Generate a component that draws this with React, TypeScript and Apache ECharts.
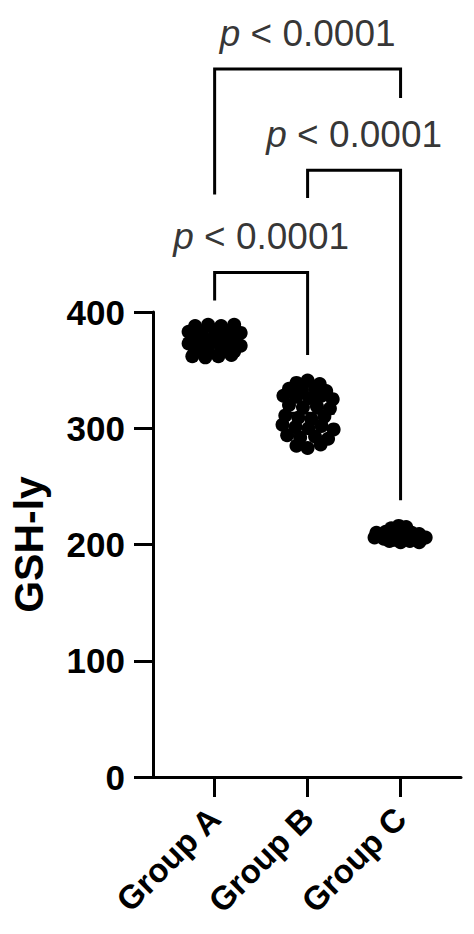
import { useEffect, useRef } from "react";
import * as echarts from "echarts";

// categories and their positions on the x value axis
const groups = ["Group A", "Group B", "Group C"];
const groupPos = [1, 2, 3];

// per-group points: values and horizontal swarm offsets (in category units)
const groupAValues = [388, 389, 388, 389, 383, 382, 384, 383, 382, 377, 376, 378, 377, 373, 372, 374, 372, 371, 367, 366, 368, 366, 362, 361, 362, 363];
const groupAJitter = [-0.21, -0.07, 0.07, 0.21, -0.28, -0.14, 0, 0.14, 0.28, -0.21, -0.07, 0.07, 0.21, -0.28, -0.14, 0.02, 0.16, 0.28, -0.21, -0.07, 0.07, 0.21, -0.24, -0.1, 0.04, 0.18];

const groupBValues = [341, 339, 338, 334, 333, 335, 332, 328, 327, 326, 328, 325, 320, 318, 319, 317, 311, 309, 308, 310, 303, 301, 300, 302, 299, 294, 292, 293, 291, 285, 283, 286];
const groupBJitter = [0, -0.12, 0.13, -0.2, -0.06, 0.08, 0.2, -0.26, -0.12, 0.02, 0.15, 0.27, -0.2, -0.05, 0.1, 0.24, -0.24, -0.1, 0.04, 0.18, -0.27, -0.13, 0.01, 0.15, 0.28, -0.22, -0.08, 0.08, 0.22, -0.12, 0, 0.14];

const groupCValues = [216, 214, 215, 210, 211, 209, 212, 210, 209, 206, 205, 204, 206, 205, 204, 206, 203, 202, 203, 202];
const groupCJitter = [-0.02, -0.1, 0.06, -0.26, -0.16, -0.06, 0.03, 0.12, 0.2, -0.28, -0.18, -0.08, 0.02, 0.12, 0.22, 0.27, -0.12, 0, 0.1, 0.2];

const groupMeans = [375, 313, 208];

// significance brackets (y in data units)
const bracketLeft = [1, 2, 1];
const bracketRight = [2, 3, 3];
const bracketTop = [434, 522, 609];
const bracketLeftEnd = [410, 498, 501];
const bracketRightEnd = [363, 238, 584];
const bracketLabels = ["< 0.0001", "< 0.0001", "< 0.0001"];

const FONT = "'Liberation Sans', Arial, Helvetica, sans-serif";
const MEAN_HALF = 0.29;
const LABEL_LIFT = 31;

export default function App() {
  const ref = useRef<HTMLDivElement>(null);

  useEffect(() => {
    document.body.style.margin = "0";
    if (!ref.current) return;
    const chart = echarts.init(ref.current, null, { renderer: "svg" });

    const pointSets = [
      groupAValues.map((v, i) => [groupPos[0] + groupAJitter[i], v]),
      groupBValues.map((v, i) => [groupPos[1] + groupBJitter[i], v]),
      groupCValues.map((v, i) => [groupPos[2] + groupCJitter[i], v]),
    ];

    const dotSeries = pointSets.map(data => ({
      type: "scatter",
      data,
      symbolSize: 14,
      itemStyle: { color: "#000", opacity: 1 },
      clip: false,
      z: 3,
    }));

    const meanSeries = groupMeans.map((m, i) => ({
      type: "line",
      data: [[groupPos[i] - MEAN_HALF, m], [groupPos[i] + MEAN_HALF, m]],
      symbol: "none",
      lineStyle: { color: "#000", width: 3 },
      clip: false,
      z: 4,
    }));

    const bracketSeries = bracketTop.map((top, i) => ({
      type: "line",
      data: [
        [bracketLeft[i], bracketLeftEnd[i]],
        [bracketLeft[i], top],
        [bracketRight[i], top],
        [bracketRight[i], bracketRightEnd[i]],
      ],
      symbol: "none",
      lineStyle: { color: "#000", width: 3, cap: "butt", join: "miter" },
      clip: false,
      z: 5,
    }));

    const labelSeries = {
      type: "scatter",
      data: bracketTop.map((top, i) => [(bracketLeft[i] + bracketRight[i]) / 2, top + LABEL_LIFT]),
      symbolSize: 1,
      itemStyle: { color: "rgba(0,0,0,0)" },
      clip: false,
      label: {
        show: true,
        position: "inside",
        formatter: (p: any) => `{i|p} ${bracketLabels[p.dataIndex]}`,
        color: "#000",
        fontFamily: FONT,
        fontSize: 37,
        rich: {
          i: { fontStyle: "italic", fontFamily: FONT, fontSize: 37, color: "#000" },
        },
      },
      z: 6,
    };

    chart.setOption({
      animation: false,
      backgroundColor: "#fff",
      grid: { left: 151, right: 13, top: 312, bottom: 157 },
      xAxis: {
        type: "value",
        min: 0.337,
        max: 3.65,
        axisLine: { show: true, lineStyle: { color: "#000", width: 3 } },
        axisTick: {
          show: true,
          customValues: groupPos,
          length: 20,
          lineStyle: { color: "#000", width: 3 },
        },
        axisLabel: {
          customValues: groupPos,
          formatter: (v: number) => groups[groupPos.indexOf(Math.round(v))] ?? "",
          rotate: 45,
          margin: 36,
          color: "#000",
          fontFamily: FONT,
          fontWeight: "bold",
          fontSize: 33,
        },
        splitLine: { show: false },
      },
      yAxis: {
        type: "value",
        min: 0,
        max: 400,
        interval: 100,
        name: "GSH-ly",
        nameLocation: "middle",
        nameGap: 104,
        nameTextStyle: { color: "#000", fontFamily: FONT, fontWeight: "bold", fontSize: 41 },
        axisLine: { show: true, lineStyle: { color: "#000", width: 3 } },
        axisTick: { show: true, length: 19, lineStyle: { color: "#000", width: 3 } },
        axisLabel: {
          margin: 28,
          color: "#000",
          fontFamily: FONT,
          fontWeight: "bold",
          fontSize: 35,
        },
        splitLine: { show: false },
      },
      series: [...dotSeries, ...meanSeries, ...bracketSeries, labelSeries],
    });

    return () => chart.dispose();
  }, []);

  return <div ref={ref} style={{ width: 474, height: 934 }} />;
}
